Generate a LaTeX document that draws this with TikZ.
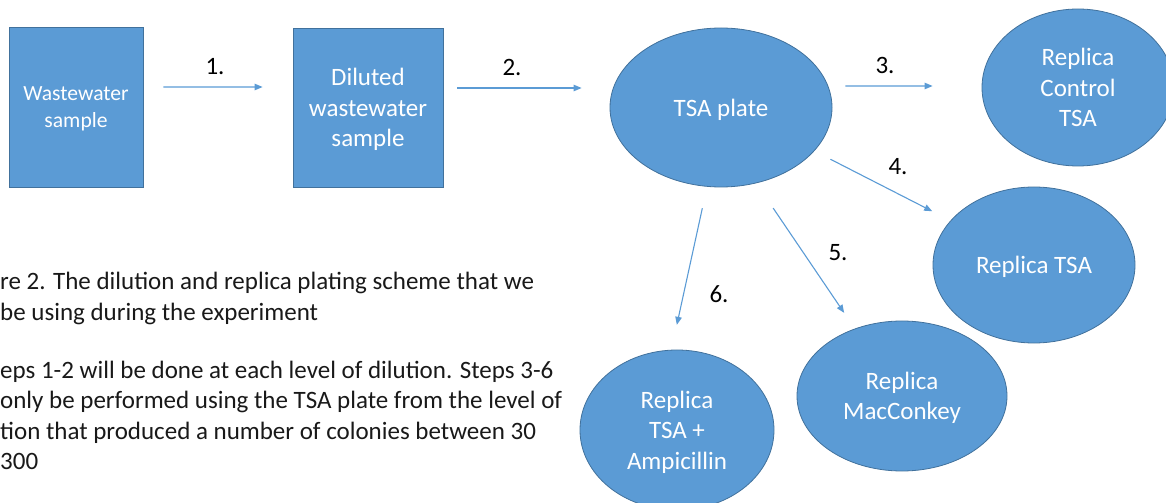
\documentclass[tikz,border=0pt]{standalone}
\usepackage{fontspec}
\setmainfont{Carlito}
\usetikzlibrary{shapes.geometric,arrows.meta}
\definecolor{officeblue}{HTML}{5B9BD5}
\definecolor{officeedge}{HTML}{41719C}
\tikzset{
  samplebox/.style={rectangle, fill=officeblue, draw=officeedge, line width=0.8bp, text=white, align=center, inner sep=0pt, text depth=0pt},
  plate/.style={ellipse, fill=officeblue, draw=officeedge, line width=0.8bp, text=white, align=center, inner sep=0pt, text depth=0pt, font=\fontsize{25bp}{30.5bp}\selectfont},
  flow/.style={draw=officeblue, line width=1.1bp, -{Triangle[length=8bp,width=6.5bp]}},
  steplabel/.style={font=\fontsize{25bp}{30bp}\selectfont, text=black},
  remark/.style={font=\fontsize{25bp}{30.5bp}\selectfont, align=left, anchor=base west, inner sep=0pt, text=black!90}
}
\begin{document}
\begin{tikzpicture}[x=1bp, y=-1bp]
  % \draw[lightgray] (0, 0) grid[step=100] (1166, 503);
  \clip (0, 0) rectangle (1166, 503);
  \node[samplebox, minimum width=134bp, minimum height=160bp, font=\fontsize{21.6bp}{26.5bp}\selectfont] (raw) at (76, 107) {Wastewater\\sample};
  \node[samplebox, minimum width=150bp, minimum height=159bp, font=\fontsize{25bp}{30.5bp}\selectfont] (dil) at (368, 107.5) {Diluted\\wastewater\\sample};
  \node[plate, minimum width=222bp, minimum height=159bp] (tsa) at (721, 107.5) {TSA plate};
  \node[plate, minimum width=192bp, minimum height=157bp] (ctrl) at (1078, 87.5) {Replica\\Control\\TSA};
  \node[plate, minimum width=202bp, minimum height=156bp] (rtsa) at (1034, 265) {Replica TSA};
  \node[plate, minimum width=210bp, minimum height=150bp] (mac) at (902, 396) {Replica\\MacConkey};
  \node[plate, minimum width=194bp, minimum height=160bp] (amp) at (677, 430) {Replica\\TSA +\\Ampicillin};

  \draw[flow, shorten <=20bp, shorten >=30bp] ([yshift=20bp]raw.east) -- ([yshift=20.5bp]dil.west);
  \draw[flow, shorten <=14bp, shorten >=28bp] ([yshift=19.5bp]dil.east) -- ([yshift=19.5bp]tsa.west);
  \draw[flow, shorten <=13bp, shorten >=49bp] ([yshift=21.5bp]tsa.east) -- ([yshift=1.5bp]ctrl.west);
  \draw[flow, shorten <=18bp, shorten >=20.5bp] (tsa.-25) -- (rtsa.152);
  \draw[flow, shorten <=30bp, shorten >=19bp] (tsa.-65) -- (mac.125);
  \draw[flow, shorten <=22bp, shorten >=25.5bp] (tsa.-100) -- (amp.94);

  \node[steplabel] (s1) at (215, 67) {1.};
  \node[steplabel] (s2) at (512, 67) {2.};
  \node[steplabel] (s3) at (885, 65) {3.};
  \node[steplabel] (s4) at (898, 167) {4.};
  \node[steplabel] (s5) at (838, 253) {5.};
  \node[steplabel] (s6) at (719, 294) {6.};

  \node[remark] (caption) at (0, 320.5) {re 2. The dilution and replica plating scheme that we\\be using during the experiment};
  \node[remark] (note) at (0, 469.5) {eps 1-2 will be done at each level of dilution. Steps 3-6\\only be performed  using the TSA plate from the level of\\tion that produced a number of colonies between 30\\300};
\end{tikzpicture}
\end{document}
